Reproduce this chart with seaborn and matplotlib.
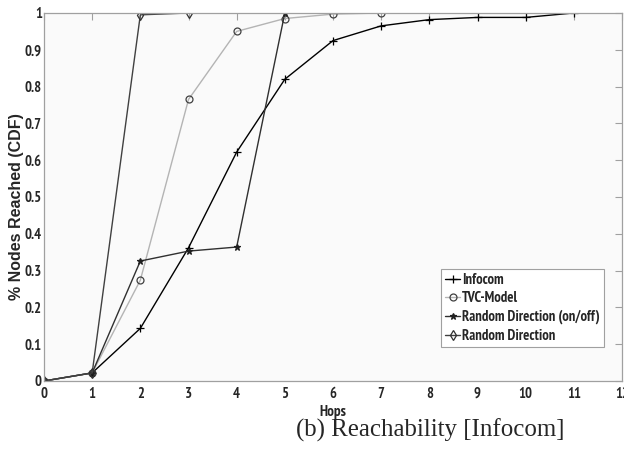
import matplotlib
matplotlib.use("Agg")
import matplotlib.pyplot as plt
import seaborn as sns
import pandas as pd
from matplotlib import font_manager
from matplotlib.font_manager import FontProperties

hops_infocom = [0, 1, 2, 3, 4, 5, 6, 7, 8, 9, 10, 11]
infocom = [0.0, 0.022, 0.143, 0.362, 0.622, 0.820, 0.925, 0.965, 0.982, 0.988, 0.988, 1.0]
hops_tvc = [0, 1, 2, 3, 4, 5, 6, 7]
tvc = [0.0, 0.022, 0.274, 0.765, 0.950, 0.985, 0.997, 1.0]
hops_onoff = [0, 1, 2, 3, 4, 5]
onoff = [0.0, 0.022, 0.326, 0.353, 0.364, 1.0]
hops_rd = [0, 1, 2, 3]
rd = [0.0, 0.022, 0.995, 1.0]

labels = ["Infocom", "TVC-Model", "Random Direction (on/off)", "Random Direction"]
xticks = list(range(0, 13))
yticks = [0, 0.1, 0.2, 0.3, 0.4, 0.5, 0.6, 0.7, 0.8, 0.9, 1]
ytick_labels = ["0", "0.1", "0.2", "0.3", "0.4", "0.5", "0.6", "0.7", "0.8", "0.9", "1"]

sns.set_style("white")
plt.rcParams["font.family"] = ["Liberation Sans", "DejaVu Sans"]

# pick a static bold narrow sans font file
narrow_file = None
prio = ["Liberation Sans Narrow", "Arial Narrow", "PT Sans Narrow", "Archivo Narrow",
        "Roboto Condensed", "Pragati Narrow", "Fira Sans Condensed", "Encode Sans Condensed",
        "IBM Plex Sans Condensed", "Barlow Semi Condensed", "Open Sans Condensed"]
fl = font_manager.fontManager.ttflist
for n in prio:
    for f in fl:
        fn = f.fname.split("/")[-1]
        if f.name == n and f.weight == 700 and f.style == "normal" and "[" not in fn:
            narrow_file = f.fname
            break
    if narrow_file:
        break
if narrow_file:
    cprop = lambda s: FontProperties(fname=narrow_file, size=s)
else:
    cprop = lambda s: FontProperties(family="DejaVu Sans", stretch="condensed", weight="bold", size=s * 0.85)

fig = plt.figure(figsize=(6.24, 4.49), dpi=100)
ax = fig.add_axes([44 / 624, 1 - 381 / 449, 578 / 624, 368 / 449])
ax.set_facecolor("#fafafa")

series = [
    (hops_infocom, infocom, "#000000", "+", 6, "#000000"),
    (hops_tvc, tvc, "#b4b4b4", "o", 5, "#404040"),
    (hops_onoff, onoff, "#303030", "*", 5, "#202020"),
    (hops_rd, rd, "#404040", "d", 5, "#303030"),
]
for (x, y, c, m, ms, mec), lab in zip(series, labels):
    df = pd.DataFrame({"Hops": x, "v": y})
    sns.lineplot(data=df, x="Hops", y="v", ax=ax, color=c, marker=m, markersize=ms,
                 markerfacecolor="none" if m in ("o", "d") else mec,
                 markeredgecolor=mec, markeredgewidth=0.9, linewidth=1.0, label=lab)

ax.set_xlim(0, 12)
ax.set_ylim(0, 1)
ax.set_xticks(xticks)
ax.set_xticklabels([str(t) for t in xticks])
ax.set_yticks(yticks)
ax.set_yticklabels(ytick_labels)
for s in ax.spines.values():
    s.set_color("#a0a0a0")
    s.set_linewidth(0.9)
ax.tick_params(direction="in", length=5, width=0.8, color="#a0a0a0",
               top=True, right=True)
ax.tick_params(axis="y", pad=1.5)
ax.tick_params(axis="x", pad=4)
for t in ax.get_xticklabels() + ax.get_yticklabels():
    t.set_fontproperties(cprop(10.5))

ax.set_xlabel("Hops", fontproperties=cprop(11), labelpad=3)
ax.set_ylabel("% Nodes Reached (CDF)", fontsize=11.5, fontweight="bold",
              family=["Liberation Sans", "DejaVu Sans"])
ax.yaxis.set_label_coords(-0.035, 0.475)

leg = ax.legend(loc="lower right", bbox_to_anchor=(0.969, 0.092), frameon=True,
                fancybox=False, edgecolor="#a0a0a0", framealpha=1, facecolor="white",
                prop=cprop(10.5), handlelength=1.05, handletextpad=0.12,
                borderpad=0.3, labelspacing=0.3, borderaxespad=0)
leg.get_frame().set_linewidth(0.8)

fig.text(430 / 624, 1 - 430 / 449, "(b) Reachability [Infocom]", ha="center", va="center",
         fontsize=17.9, family=["Liberation Serif", "DejaVu Serif"])

fig.savefig("out.png", dpi=100)
